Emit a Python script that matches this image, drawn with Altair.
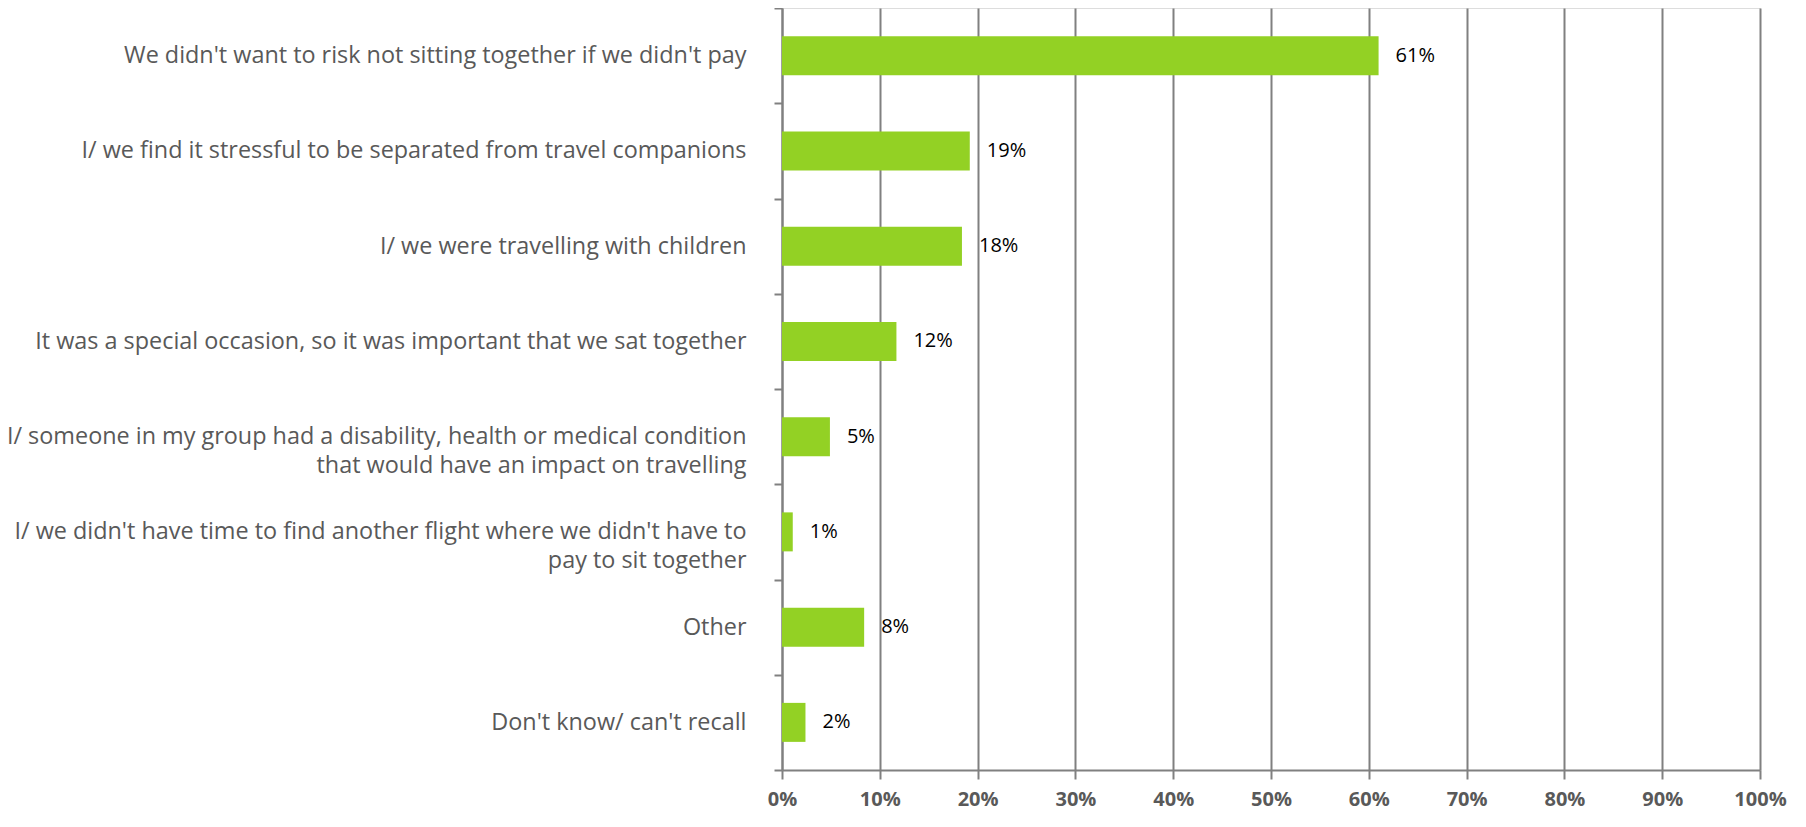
import altair as alt
import pandas as pd

categories = [
    "We didn't want to risk not sitting together if we didn't pay",
    "I/ we find it stressful to be separated from travel companions",
    "I/ we were travelling with children",
    "It was a special occasion, so it was important that we sat together",
    "I/ someone in my group had a disability, health or medical condition|that would have an impact on travelling",
    "I/ we didn't have time to find another flight where we didn't have to|pay to sit together",
    "Other",
    "Don't know/ can't recall",
]
values = [0.61, 0.192, 0.184, 0.117, 0.049, 0.011, 0.084, 0.024]

df = pd.DataFrame({"category": categories, "value": values})

FONT = "Open Sans"
GRAY = "#595959"
LINE = "#808080"

y_enc = alt.Y(
    "category:N",
    sort=categories,
    scale=alt.Scale(paddingInner=0, paddingOuter=0),
    axis=alt.Axis(
        title=None,
        labelExpr="split(datum.label, '|')",
        labelFont=FONT,
        labelFontSize=23.4,
        labelColor=GRAY,
        labelLineHeight=29,
        labelPadding=28,
        labelLimit=900,
        tickBand="extent",
        tickSize=8,
        tickColor=LINE,
        tickWidth=2,
        domainColor=LINE,
        domainWidth=2,
        grid=False,
    ),
)

x_enc = alt.X(
    "value:Q",
    scale=alt.Scale(domain=[0, 1], nice=False, zero=True),
    axis=alt.Axis(
        title=None,
        format=".0%",
        values=[i / 10 for i in range(11)],
        labelFont=FONT,
        labelFontSize=20,
        labelFontWeight="bold",
        labelColor=GRAY,
        labelPadding=10,
        tickSize=9,
        tickColor=LINE,
        tickWidth=2,
        domainColor=LINE,
        domainWidth=2,
        grid=True,
        gridColor=LINE,
        gridWidth=2,
        labelFlush=False,
    ),
)

bars = alt.Chart(df).mark_bar(color="#93D124", size=39).encode(x=x_enc, y=y_enc)

text = alt.Chart(df).mark_text(
    align="left", baseline="middle", dx=17, font=FONT, fontSize=20, color="#000000"
).encode(
    x=alt.X("value:Q"),
    y=alt.Y("category:N", sort=categories),
    text=alt.Text("value:Q", format=".0%"),
)

chart = (
    alt.layer(bars, text)
    .properties(
        width=978,
        height=762,
        autosize=alt.AutoSizeParams(type="none"),
        padding={"left": 774, "top": 0, "right": 28, "bottom": 42},
    )
    .configure_view(stroke=None)
    .configure(background="white")
)

chart.save("out.html", embed_options={"renderer": "svg", "actions": False})
